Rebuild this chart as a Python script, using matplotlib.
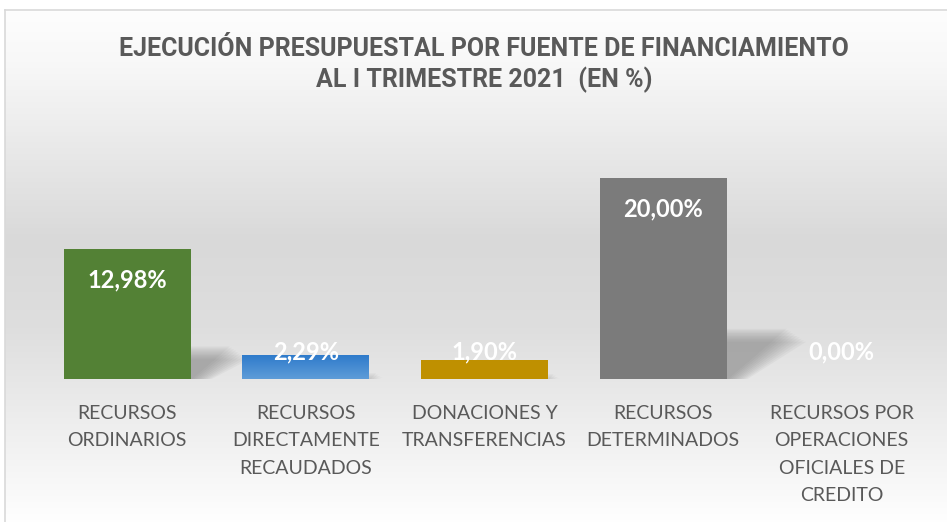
import numpy as np
import matplotlib
matplotlib.use("Agg")
import matplotlib.pyplot as plt
from matplotlib.patches import Polygon
from matplotlib.colors import LinearSegmentedColormap

# ── Data ───────────────────────────────────────────────────────────────────────
categories = [
    "RECURSOS\nORDINARIOS",
    "RECURSOS\nDIRECTAMENTE\nRECAUDADOS",
    "DONACIONES Y\nTRANSFERENCIAS",
    "RECURSOS\nDETERMINADOS",
    "RECURSOS POR\nOPERACIONES\nOFICIALES DE\nCREDITO",
]
values = [12.98, 2.29, 1.90, 20.00, 0.00]
value_labels = ["12,98%", "2,29%", "1,90%", "20,00%", "0,00%"]
colors = ["#538135", "#5B9BD5", "#BF9000", "#7B7B7B", "#A5A5A5"]

TITLE = "EJECUCIÓN PRESUPUESTAL POR FUENTE DE FINANCIAMIENTO\nAL I TRIMESTRE 2021  (EN %)"
TEXT_GRAY = "#595959"

W, H = 947, 522
fig = plt.figure(figsize=(W / 100, H / 100), dpi=100)

# ── Background panel with vertical gradient ───────────────────────────────────
bg = fig.add_axes([5 / W, 0, 1 - 5 / W, (H - 10) / H])
stops = [(0.0, "#fdfdfd"), (0.10, "#f8f8f8"), (0.45, "#d9d9d9"),
         (0.62, "#dedede"), (1.0, "#fefefe")]
cmap_bg = LinearSegmentedColormap.from_list("bg", stops)
grad = np.linspace(0, 1, 256).reshape(-1, 1)
bg.imshow(grad, aspect="auto", cmap=cmap_bg, extent=[0, 1, 0, 1], origin="upper")
bg.set_xlim(0, 1)
bg.set_ylim(0, 1)
bg.set_xticks([])
bg.set_yticks([])
for side in ["right", "bottom"]:
    bg.spines[side].set_visible(False)
for side in ["left", "top"]:
    bg.spines[side].set_color("#d9d9d9")
    bg.spines[side].set_linewidth(1.2)

# ── Title ──────────────────────────────────────────────────────────────────────
fig.text(484 / W, 1 - 65 / H, TITLE, ha="center", va="center",
         fontsize=18, fontweight="bold", color=TEXT_GRAY, linespacing=1.25,
         family=["Roboto", "DejaVu Sans"])

# ── Bars ──────────────────────────────────────────────────────────────────────
y_top_px = 140
ymax = 20.0 * (379 - y_top_px) / (379 - 178)
ax = fig.add_axes([38 / W, (H - 379) / H, (931 - 38) / W, (379 - y_top_px) / H])
ax.set_xlim(-0.5, len(values) - 0.5)
ax.set_ylim(0, ymax)
ax.patch.set_alpha(0)
for s in ax.spines.values():
    s.set_visible(False)
ax.tick_params(axis="both", length=0)
ax.set_yticks([])

x = np.arange(len(values))
bar_w = 0.71
bars = ax.bar(x, values, width=bar_w, color=colors, zorder=3)

# blue bar has a top-to-bottom gradient
b = bars[1]
bx0, bw, bh = b.get_x(), b.get_width(), b.get_height()
blue_cmap = LinearSegmentedColormap.from_list("blue", ["#5E9CD8", "#2F7BCB"])
ax.imshow(np.linspace(0, 1, 64).reshape(-1, 1), aspect="auto", cmap=blue_cmap,
          extent=[bx0, bx0 + bw, bh, 0], zorder=3.5)

# perspective shadows (soft, skewed up-right)
px_per_unit_x = (931 - 38) / len(values)
px_per_unit_y = (379 - y_top_px) / ymax
for xi, v in zip(x, values):
    if v <= 0:
        continue
    hpx = v * px_per_unit_y
    dx = 0.30 * hpx / px_per_unit_x
    dy = 0.25 * v
    x0, x1 = xi - bar_w / 2, xi + bar_w / 2
    for k in range(10):
        g = k * 0.012
        poly = Polygon([(x0 + g, 0), (x1 + g + 0.01, 0),
                        (x1 + dx + g, dy - g * 12), (x0 + dx + g, dy - g * 12)],
                       closed=True, facecolor="#787878", edgecolor="none",
                       alpha=0.07, zorder=2)
        ax.add_patch(poly)

# value labels (white, bold, inside end)
for xi, v, lab in zip(x, values, value_labels):
    ypos = max(v - 3.1, 2.7)
    ax.text(xi, ypos, lab, ha="center", va="center", color="white",
            fontsize=17, fontweight="bold", zorder=5,
            family=["Lato", "DejaVu Sans"])

# category labels
ax.set_xticks(x)
ax.set_xticklabels(categories, fontsize=14, color=TEXT_GRAY, linespacing=1.72,
                   family=["Lato", "DejaVu Sans"], va="top")
ax.tick_params(axis="x", pad=19)

fig.savefig("out.png", dpi=100)
